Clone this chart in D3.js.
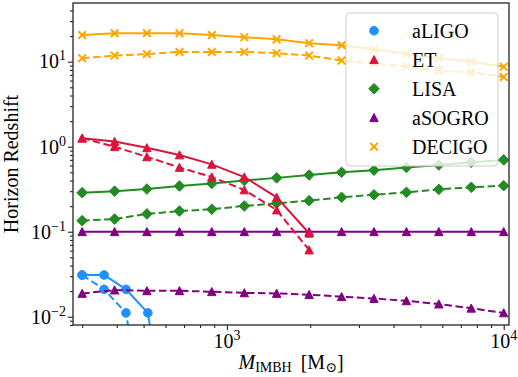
<!DOCTYPE html>
<html>
<head>
<meta charset="utf-8">
<script src="https://cdn.jsdelivr.net/npm/d3@7"></script>
<style>
body { margin: 0; background: #fff; }
text { font-family: "Liberation Serif", "DejaVu Serif", serif; fill: #000; }
</style>
</head>
<body>
<div id="graph"></div>
<script>
// masses (solar masses) where the horizon redshift was sampled
var massGrid = [300, 393, 514, 674, 882, 1156, 1513, 1982, 2596, 3399, 4452, 5830, 7635, 10000];
var ligoMass = [300, 360, 432, 518, 622];

// horizon redshift, solid and dashed curves for every detector
var ligoSolid = [0.031, 0.031, 0.021, 0.0111, 0.0003];
var ligoDashed = [0.031, 0.021, 0.0111, 0.0003];
var etSolid = [1.26, 1.15, 0.97, 0.80, 0.62, 0.44, 0.254, 0.096];
var etDashed = [1.26, 1.0, 0.76, 0.57, 0.44, 0.31, 0.18, 0.061];
var lisaSolid = [0.288, 0.30, 0.318, 0.345, 0.37, 0.40, 0.43, 0.465, 0.50, 0.53, 0.57, 0.61, 0.655, 0.70];
var lisaDashed = [0.135, 0.141, 0.162, 0.175, 0.184, 0.201, 0.216, 0.232, 0.254, 0.272, 0.291, 0.315, 0.333, 0.348];
var sogroSolid = [0.1, 0.1, 0.1, 0.1, 0.1, 0.1, 0.1, 0.1, 0.1, 0.1, 0.1, 0.1, 0.1, 0.1];
var sogroDashed = [0.0188, 0.0206, 0.0202, 0.0202, 0.0197, 0.0191, 0.0188, 0.0182, 0.0172, 0.0164, 0.0154, 0.0141, 0.0126, 0.0111];
var decigoSolid = [20.6, 21.6, 21.6, 21.6, 20.6, 19.4, 18.3, 16.5, 15.6, 14.0, 12.3, 11.0, 10.0, 8.7];
var decigoDashed = [11.0, 11.8, 12.3, 13.0, 13.0, 13.0, 12.6, 11.8, 10.3, 9.6, 8.7, 7.8, 7.5, 6.6];

var labels = ["aLIGO", "ET", "LISA", "aSOGRO", "DECIGO"];
var colors = ["#1e90ff", "#dc143c", "#228b22", "#800080", "#ffa500"];
var shapes = ["circle", "triangle", "diamond", "triangle", "times"];

var xMajor = [1000, 10000];
var yMajor = [0.01, 0.1, 1, 10];

var m = [3, 9, 52, 73]; // top right bottom left
var W = 518, H = 377;
var w = W - m[1] - m[3];
var h = H - m[0] - m[2];

var x = d3.scaleLog().domain([278, 10450]).range([0, w]);
var y = d3.scaleLog().domain([0.008, 49]).range([h, 0]);

var svg = d3.select("#graph").append("svg")
    .attr("width", W).attr("height", H);

svg.append("defs").append("clipPath").attr("id", "clip")
    .append("rect").attr("width", w).attr("height", h);

var g = svg.append("g").attr("transform", "translate(" + m[3] + "," + m[0] + ")");

function markerPath(shape) {
    if (shape == "circle") return d3.symbol(d3.symbolCircle, Math.PI * 4.3 * 4.3)();
    if (shape == "triangle") return "M0,-4.2L4.2,3.9L-4.2,3.9Z";
    if (shape == "diamond") return "M0,-5.3L5.3,0L0,5.3L-5.3,0Z";
    return "M-3.8,-3.8L3.8,3.8M-3.8,3.8L3.8,-3.8";
}

function drawMarker(sel, shape, color) {
    var p = sel.append("path").attr("d", markerPath(shape));
    if (shape == "times") {
        p.attr("fill", "none").attr("stroke", color).attr("stroke-width", 2);
    } else {
        p.attr("fill", color).attr("stroke", color).attr("stroke-width", 1);
    }
    return p;
}

var line = d3.line()
    .x(function (d) { return x(d[0]); })
    .y(function (d) { return y(d[1]); });

var plot = g.append("g").attr("clip-path", "url(#clip)");

function drawSeries(xs, vals, idx, dashed) {
    var pts = vals.map(function (v, i) { return [xs[i], v]; });
    plot.append("path")
        .attr("d", line(pts))
        .attr("fill", "none")
        .attr("stroke", colors[idx])
        .attr("stroke-width", 2)
        .attr("stroke-dasharray", dashed ? "7.5,3.5" : null);
    pts.forEach(function (p) {
        var mk = plot.append("g").attr("transform", "translate(" + x(p[0]) + "," + y(p[1]) + ")");
        drawMarker(mk, shapes[idx], colors[idx]);
    });
}

drawSeries(ligoMass, ligoSolid, 0, false);
drawSeries(ligoMass, ligoDashed, 0, true);
drawSeries(massGrid, lisaSolid, 2, false);
drawSeries(massGrid, lisaDashed, 2, true);
drawSeries(massGrid, sogroSolid, 3, false);
drawSeries(massGrid, sogroDashed, 3, true);
drawSeries(massGrid, decigoSolid, 4, false);
drawSeries(massGrid, decigoDashed, 4, true);
drawSeries(massGrid.slice(0, etSolid.length), etSolid, 1, false);
drawSeries(massGrid.slice(0, etDashed.length), etDashed, 1, true);

// axes: major and minor ticks, labels drawn separately
function minorTicks(scale) {
    return scale.ticks().filter(function (t) {
        var e = Math.log10(t);
        return Math.abs(e - Math.round(e)) > 1e-6;
    });
}

function styleAxis(a) {
    a.select(".domain").remove();
    a.selectAll("line").attr("stroke", "#222").attr("stroke-width", 1.1);
    a.selectAll("text").remove();
}

g.append("g").attr("transform", "translate(0," + h + ")")
    .call(d3.axisBottom(x).tickValues(xMajor).tickSize(5)).call(styleAxis);
g.append("g").attr("transform", "translate(0," + h + ")")
    .call(d3.axisBottom(x).tickValues(minorTicks(x)).tickSize(3)).call(styleAxis);
g.append("g")
    .call(d3.axisLeft(y).tickValues(yMajor).tickSize(5)).call(styleAxis);
g.append("g")
    .call(d3.axisLeft(y).tickValues(minorTicks(y)).tickSize(3)).call(styleAxis);

// frame
g.append("rect").attr("width", w).attr("height", h)
    .attr("fill", "none").attr("stroke", "#333").attr("stroke-width", 1.4);

function expLabel(t) {
    var e = Math.round(Math.log10(t));
    return e < 0 ? "\u2212" + (-e) : String(e);
}

xMajor.forEach(function (t) {
    var tx = g.append("text")
        .attr("x", x(t)).attr("y", h + 23)
        .attr("text-anchor", "middle").style("font-size", "20px");
    tx.append("tspan").text("10");
    tx.append("tspan").attr("dy", -8).style("font-size", "14px").text(expLabel(t));
});

yMajor.forEach(function (t) {
    var tx = g.append("text")
        .attr("x", -7).attr("y", y(t) + 6.8)
        .attr("text-anchor", "end").style("font-size", "20px");
    tx.append("tspan").text("10");
    tx.append("tspan").attr("dy", -8).style("font-size", "14px").text(expLabel(t));
});

// axis labels
var xl = svg.append("text")
    .attr("x", m[3] + w / 2).attr("y", 369)
    .attr("text-anchor", "middle").style("font-size", "20px");
xl.append("tspan").style("font-style", "italic").text("M");
xl.append("tspan").attr("dy", 3).style("font-size", "14px").text("IMBH");
xl.append("tspan").attr("dy", -3).text("\u2009 [M");
xl.append("tspan").attr("dy", 3).style("font-size", "14px").text("\u2299");
xl.append("tspan").attr("dy", -3).text("]");

svg.append("text")
    .attr("transform", "translate(18," + (m[0] + h / 2) + ") rotate(-90)")
    .attr("text-anchor", "middle").style("font-size", "20px")
    .text("Horizon Redshift");

// legend
var lg = svg.append("g").attr("transform", "translate(346,13)");
lg.append("rect").attr("width", 152).attr("height", 153).attr("rx", 4)
    .attr("fill", "#fff").attr("fill-opacity", 0.8)
    .attr("stroke", "#ccc").attr("stroke-width", 1);
labels.forEach(function (lab, i) {
    var row = lg.append("g").attr("transform", "translate(0," + (17.7 + i * 29) + ")");
    var mk = row.append("g").attr("transform", "translate(28,0)");
    drawMarker(mk, shapes[i], colors[i]);
    row.append("text").attr("x", 66).attr("y", 6.8)
        .style("font-size", "20px").text(lab);
});
</script>
</body>
</html>
